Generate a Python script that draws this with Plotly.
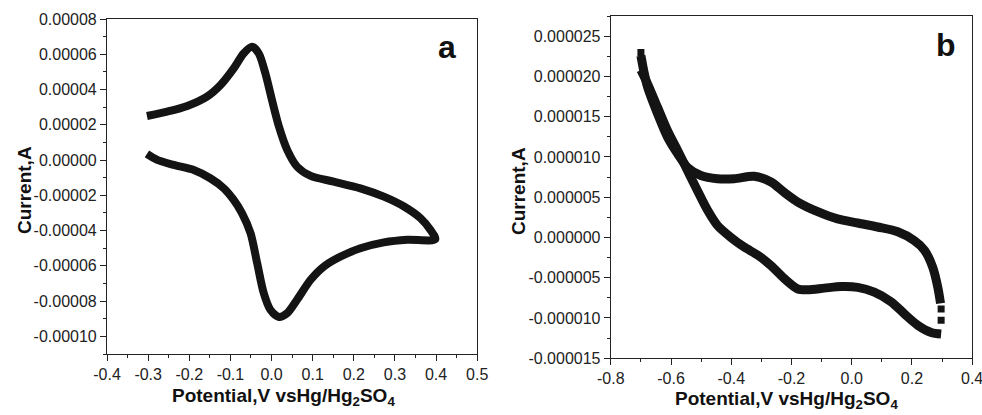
import plotly.graph_objects as go

# Panel a: cyclic voltammogram, anodic sweep then cathodic return
a_potential = [-0.303, -0.254, -0.205, -0.157, -0.124, -0.092, -0.068, -0.047, -0.031,
               -0.015, 0.001, 0.018, 0.038, 0.062, 0.095, 0.151, 0.216, 0.273, 0.322,
               0.362, 0.386, 0.398,
               0.330, 0.273, 0.216, 0.168, 0.127, 0.095, 0.062, 0.038, 0.018, -0.003,
               -0.019, -0.035, -0.051, -0.072, -0.092, -0.116, -0.149, -0.189, -0.238,
               -0.278, -0.303]
a_current = [2.50e-5, 2.75e-5, 3.07e-5, 3.60e-5, 4.26e-5, 5.20e-5, 6.05e-5, 6.43e-5, 6.05e-5,
             4.92e-5, 3.41e-5, 1.90e-5, 0.58e-5, -0.37e-5, -0.90e-5, -1.22e-5, -1.60e-5,
             -2.07e-5, -2.63e-5, -3.29e-5, -3.95e-5, -4.49e-5,
             -4.52e-5, -4.67e-5, -5.00e-5, -5.47e-5, -6.04e-5, -6.79e-5, -7.92e-5, -8.68e-5,
             -8.90e-5, -8.49e-5, -7.55e-5, -5.85e-5, -4.15e-5, -3.01e-5, -2.26e-5, -1.60e-5,
             -1.03e-5, -0.56e-5, -0.27e-5, 0.01e-5, 0.35e-5]

# Panel b: anodic sweep (-0.7 V -> 0.3 V)
b_fwd_potential = [-0.700, -0.690, -0.678, -0.645, -0.612, -0.578, -0.545, -0.501, -0.446,
                   -0.390, -0.324, -0.268, -0.224, -0.179, -0.113, -0.047, 0.020, 0.086,
                   0.153, 0.208, 0.242, 0.269, 0.286, 0.295]
b_fwd_current = [22.6e-6, 20.6e-6, 18.7e-6, 15.4e-6, 12.5e-6, 10.4e-6, 8.7e-6, 7.7e-6, 7.3e-6,
                 7.3e-6, 7.6e-6, 6.9e-6, 5.6e-6, 4.4e-6, 3.2e-6, 2.3e-6, 1.8e-6, 1.3e-6,
                 0.7e-6, -0.4e-6, -1.6e-6, -3.7e-6, -6.2e-6, -8.2e-6]
# Panel b: cathodic sweep (0.3 V -> -0.7 V)
b_rev_potential = [0.297, 0.264, 0.219, 0.175, 0.131, 0.075, 0.020, -0.035, -0.091, -0.146,
                   -0.179, -0.224, -0.268, -0.312, -0.357, -0.401, -0.446, -0.479, -0.512,
                   -0.545, -0.578, -0.612, -0.645, -0.678, -0.700]
b_rev_current = [-12.0e-6, -11.8e-6, -10.9e-6, -9.5e-6, -8.0e-6, -6.8e-6, -6.2e-6, -6.1e-6,
                 -6.3e-6, -6.5e-6, -6.4e-6, -5.1e-6, -3.5e-6, -2.2e-6, -1.2e-6, 0.0, 1.5e-6,
                 3.4e-6, 5.8e-6, 8.3e-6, 10.8e-6, 13.3e-6, 16.2e-6, 19.1e-6, 20.8e-6]
# Sparse points at the switching potentials
b_gap_potential = [0.297, 0.297, -0.700]
b_gap_current = [-8.9e-6, -10.3e-6, 23.0e-6]

a_xticks = [-0.4, -0.3, -0.2, -0.1, 0.0, 0.1, 0.2, 0.3, 0.4, 0.5]
a_xlabels = ["-0.4", "-0.3", "-0.2", "-0.1", "0.0", "0.1", "0.2", "0.3", "0.4", "0.5"]
a_yticks = [8e-5, 6e-5, 4e-5, 2e-5, 0, -2e-5, -4e-5, -6e-5, -8e-5, -1e-4]
a_ylabels = ["0.00008", "0.00006", "0.00004", "0.00002", "0.00000", "-0.00002",
             "-0.00004", "-0.00006", "-0.00008", "-0.00010"]
b_xticks = [-0.8, -0.6, -0.4, -0.2, 0.0, 0.2, 0.4]
b_xlabels = ["-0.8", "-0.6", "-0.4", "-0.2", "0.0", "0.2", "0.4"]
b_yticks = [25e-6, 20e-6, 15e-6, 10e-6, 5e-6, 0, -5e-6, -10e-6, -15e-6]
b_ylabels = ["0.000025", "0.000020", "0.000015", "0.000010", "0.000005", "0.000000",
             "-0.000005", "-0.000010", "-0.000015"]

FONT = "Liberation Sans, Arial, Helvetica, sans-serif"
INK = "#141414"

fig = go.Figure()
fig.add_trace(go.Scatter(x=a_potential, y=a_current, mode="lines",
                         line=dict(color=INK, width=8, shape="spline", smoothing=0.8),
                         xaxis="x", yaxis="y", showlegend=False))
for px, py in [(b_fwd_potential, b_fwd_current), (b_rev_potential, b_rev_current)]:
    fig.add_trace(go.Scatter(x=px, y=py, mode="lines",
                             line=dict(color=INK, width=9, shape="spline", smoothing=0.8),
                             xaxis="x2", yaxis="y2", showlegend=False))
fig.add_trace(go.Scatter(x=b_gap_potential, y=b_gap_current, mode="markers",
                         marker=dict(symbol="square", size=7, color=INK, line=dict(width=0)),
                         xaxis="x2", yaxis="y2", showlegend=False))

axis_common = dict(showgrid=False, zeroline=False, showline=True, linecolor="#222",
                   linewidth=1.2, mirror=True, ticks="outside", ticklen=6, tickwidth=1,
                   tickcolor="#222", tickmode="array", automargin=False,
                   ticklabeloverflow="allow",
                   tickfont=dict(family=FONT, size=16, color="#222"))

fig.update_layout(
    template="none",
    width=982, height=415,
    margin=dict(l=0, r=0, t=0, b=0),
    paper_bgcolor="white", plot_bgcolor="white",
    xaxis=dict(domain=[0.109, 0.486], anchor="y", range=[-0.4, 0.5001],
               tickvals=a_xticks, ticktext=a_xlabels,
               minor=dict(dtick=0.05, tick0=0, ticks="outside", ticklen=3, tickcolor="#222"),
               **axis_common),
    yaxis=dict(domain=[0.147, 0.954], anchor="x", range=[-0.00011, 0.00008],
               tickvals=a_yticks, ticktext=a_ylabels,
               minor=dict(dtick=1e-5, tick0=0, ticks="outside", ticklen=3, tickcolor="#222"),
               **axis_common),
    xaxis2=dict(domain=[0.622, 0.990], anchor="y2", range=[-0.8, 0.4001],
                tickvals=b_xticks, ticktext=b_xlabels,
                minor=dict(dtick=0.1, tick0=0, ticks="outside", ticklen=3, tickcolor="#222"),
                **axis_common),
    yaxis2=dict(domain=[0.137, 0.961], anchor="x2", range=[-0.000015, 0.0000275],
                tickvals=b_yticks, ticktext=b_ylabels,
                minor=dict(dtick=2.5e-6, tick0=0, ticks="outside", ticklen=3, tickcolor="#222"),
                **axis_common),
)

title_font = dict(family=FONT, size=19, color="#111")
xtitle = "<b>Potential,V vsHg/Hg<sub>2</sub>SO<sub>4</sub></b>"
fig.add_annotation(text=xtitle, xref="paper", yref="paper", x=283 / 982, y=1 - 397 / 415,
                   showarrow=False, font=title_font, xanchor="center", yanchor="middle")
fig.add_annotation(text=xtitle, xref="paper", yref="paper", x=786 / 982, y=1 - 400 / 415,
                   showarrow=False, font=title_font, xanchor="center", yanchor="middle")
fig.add_annotation(text="<b>Current,A</b>", xref="paper", yref="paper", x=25 / 982,
                   y=1 - 190 / 415, showarrow=False, font=title_font, textangle=-90,
                   xanchor="center", yanchor="middle")
fig.add_annotation(text="<b>Current,A</b>", xref="paper", yref="paper", x=518 / 982,
                   y=1 - 191 / 415, showarrow=False, font=title_font, textangle=-90,
                   xanchor="center", yanchor="middle")

panel_font = dict(family=FONT, size=32, color="#111")
fig.add_annotation(text="<b>a</b>", xref="paper", yref="paper", x=447 / 982, y=1 - 47 / 415,
                   showarrow=False, font=panel_font, xanchor="center", yanchor="middle")
fig.add_annotation(text="<b>b</b>", xref="paper", yref="paper", x=946 / 982, y=1 - 45 / 415,
                   showarrow=False, font=panel_font, xanchor="center", yanchor="middle")

fig.write_html("out.html")
